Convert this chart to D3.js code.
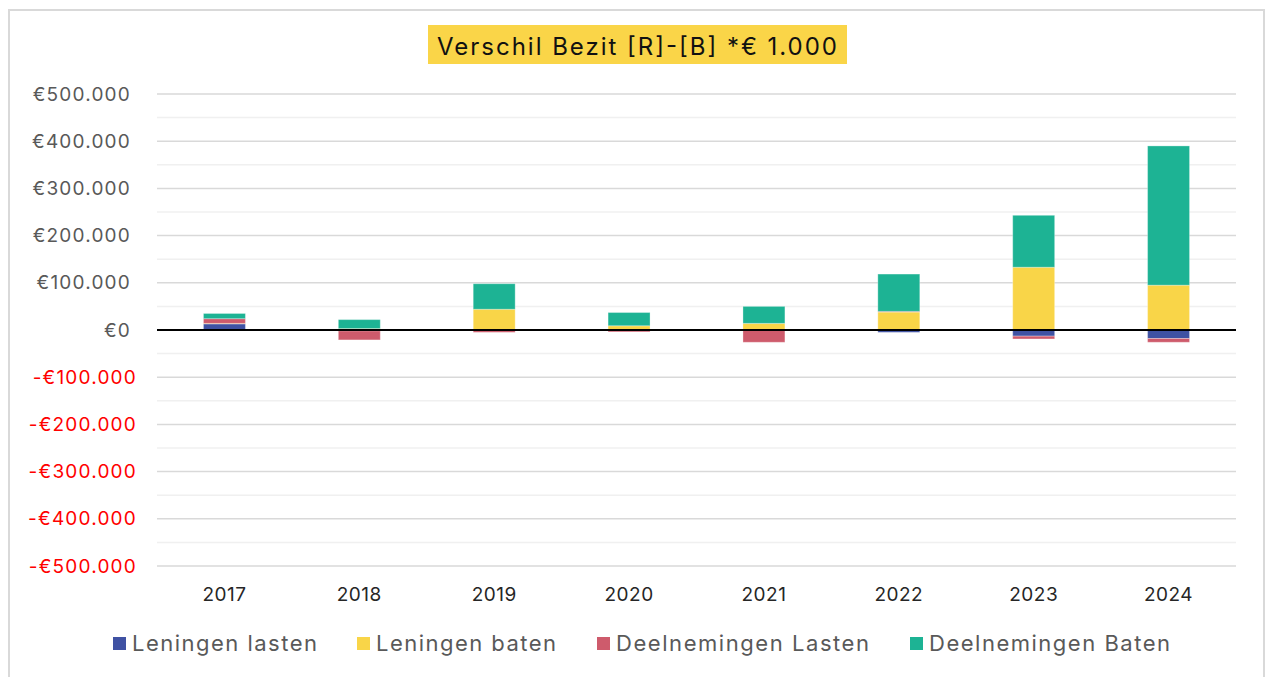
<!DOCTYPE html>
<html>
<head>
<meta charset="utf-8">
<script src="https://cdn.jsdelivr.net/npm/d3@7"></script>
<style>
  body { margin: 0; background: #fff; }
  svg { display: block; font-family: Inter, "Open Sans", sans-serif; }
</style>
</head>
<body>
<div id="chart"></div>
<script>
const years = ["2017", "2018", "2019", "2020", "2021", "2022", "2023", "2024"]
const series = ["Leningen lasten", "Leningen baten", "Deelnemingen Lasten", "Deelnemingen Baten"]
const leningenLasten = [13000, -2000, 0, 0, 0, -5000, -13000, -18000]
const leningenBaten = [1000, 3000, 44000, 9000, 14000, 38000, 133000, 95000]
const deelnemingenLasten = [10000, -19000, -5000, -4000, -26000, 1500, -6000, -8000]
const deelnemingenBaten = [11000, 19000, 54000, 28000, 36000, 79000, 110000, 295000]
const yTicks = [-500000, -400000, -300000, -200000, -100000, 0, 100000, 200000, 300000, 400000, 500000]
const titleText = "Verschil Bezit [R]-[B] *€ 1.000"

const colors = ["#3F52A3", "#F9D548", "#CE5B6C", "#1DB394"]

const rows = years.map((y, i) => ({
  year: y,
  "Leningen lasten": leningenLasten[i],
  "Leningen baten": leningenBaten[i],
  "Deelnemingen Lasten": deelnemingenLasten[i],
  "Deelnemingen Baten": deelnemingenBaten[i]
}))

const width = 1266
const height = 677

const svg = d3.select("#chart")
  .append("svg")
  .attr("width", width)
  .attr("height", height)

// frame
svg.append("rect")
  .attr("x", 9).attr("y", 10)
  .attr("width", 1255).attr("height", 700)
  .attr("fill", "#fff")
  .attr("stroke", "#d9d9d9")
  .attr("stroke-width", 2)

const x = d3.scaleBand()
  .domain(years)
  .range([157, 1236])
  .paddingInner(0.689)
  .paddingOuter(0.3445)

const y = d3.scaleLinear()
  .domain([-500000, 500000])
  .range([566, 94])

// minor grid every 50k
const minor = d3.range(-450000, 500000, 100000)
svg.append("g")
  .selectAll("line")
  .data(minor)
  .enter()
  .append("line")
  .attr("x1", 157).attr("x2", 1236)
  .attr("y1", d => y(d)).attr("y2", d => y(d))
  .style("stroke", "#f0f0f0")
  .style("stroke-width", 1.5)

svg.append("g")
  .selectAll("line")
  .data(yTicks.filter(d => d !== 0))
  .enter()
  .append("line")
  .attr("x1", 157).attr("x2", 1236)
  .attr("y1", d => y(d)).attr("y2", d => y(d))
  .style("stroke", "#d9d9d9")
  .style("stroke-width", 1.5)

// y axis
const nl = d3.formatLocale({ decimal: ",", thousands: ".", grouping: [3], currency: ["€", ""], minus: "-" })
const fmt = nl.format("$,")

const yAxis = svg.append("g")
  .attr("transform", "translate(131,0)")
  .call(d3.axisLeft(y).tickValues(yTicks).tickSize(0).tickPadding(0).tickFormat(fmt))
yAxis.select(".domain").remove()
yAxis.selectAll("text")
  .attr("font-family", "Inter, 'Open Sans', sans-serif")
  .attr("font-size", 19)
  .attr("letter-spacing", 1.2)
  .attr("fill", d => d < 0 ? "#FF0000" : "#595959")
  .attr("x", d => d < 0 ? 6 : 0)

// bars
const stack = d3.stack().keys(series).offset(d3.stackOffsetDiverging)
const stacked = stack(rows)

svg.append("g")
  .selectAll("g")
  .data(stacked)
  .enter()
  .append("g")
  .attr("fill", (d, i) => colors[i])
  .selectAll("rect")
  .data(d => d)
  .enter()
  .append("rect")
  .attr("x", d => x(d.data.year))
  .attr("width", x.bandwidth())
  .attr("y", d => y(Math.max(d[0], d[1])))
  .attr("height", d => Math.abs(y(d[0]) - y(d[1])))
  .attr("stroke", "rgba(255,255,255,0.3)")
  .attr("stroke-width", 1)

// zero line
svg.append("line")
  .attr("x1", 157).attr("x2", 1236)
  .attr("y1", y(0)).attr("y2", y(0))
  .style("stroke", "#000")
  .style("stroke-width", 2)

// x axis
const xAxis = svg.append("g")
  .attr("transform", "translate(0,566)")
  .call(d3.axisBottom(x).tickSize(0).tickPadding(21.5))
xAxis.select(".domain").remove()
xAxis.selectAll("text")
  .attr("font-family", "Inter, 'Open Sans', sans-serif")
  .attr("font-size", 19)
  .attr("letter-spacing", 0.5)
  .attr("fill", "#262626")

// title
svg.append("rect")
  .attr("x", 428).attr("y", 25)
  .attr("width", 419).attr("height", 39)
  .attr("fill", "#FAD548")
svg.append("text")
  .attr("x", 437).attr("y", 55)
  .attr("font-size", 24)
  .attr("textLength", 400)
  .attr("lengthAdjust", "spacing")
  .attr("fill", "#111")
  .text(titleText)

// legend
const legendX = [113, 357, 597, 910]
const legendW = [185, 180, 253, 241]
const legend = svg.append("g")
  .selectAll("g")
  .data(series)
  .enter()
  .append("g")
  .attr("transform", (d, i) => `translate(${legendX[i]},637)`)
legend.append("rect")
  .attr("width", 13).attr("height", 13)
  .attr("fill", (d, i) => colors[i])
legend.append("text")
  .attr("x", 19).attr("y", 14)
  .attr("font-size", 22)
  .attr("textLength", (d, i) => legendW[i])
  .attr("lengthAdjust", "spacing")
  .attr("fill", "#595959")
  .text(d => d)
</script>
</body>
</html>
